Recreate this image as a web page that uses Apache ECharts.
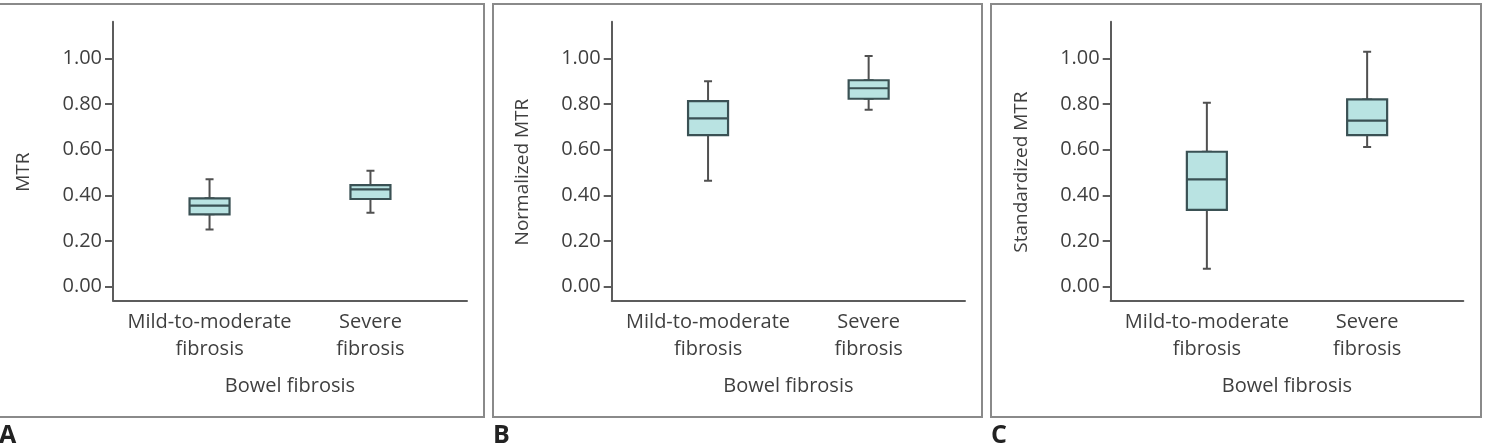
<!DOCTYPE html>
<html>
<head>
<meta charset="utf-8">
<script src="https://cdn.jsdelivr.net/npm/echarts@6/dist/echarts.min.js"></script>
<style>
  html, body { margin: 0; padding: 0; background: #fff; }
  #chart { width: 1486px; height: 445px; }
</style>
</head>
<body>
<div id="chart"></div>
<script>
// categories and tick values
const categories = ['Mild-to-moderate\nfibrosis', 'Severe\nfibrosis'];
const yTicks = [0, 0.2, 0.4, 0.6, 0.8, 1.0];
const xName = 'Bowel fibrosis';
const yNames = ['MTR', 'Normalized MTR', 'Standardized MTR'];
const panelLetters = ['A', 'B', 'C'];

// [min, Q1, median, Q3, max] per category
const mtr = [[0.251, 0.317, 0.355, 0.387, 0.470], [0.324, 0.384, 0.426, 0.445, 0.508]];
const normalizedMtr = [[0.464, 0.664, 0.737, 0.813, 0.900], [0.775, 0.823, 0.869, 0.904, 1.010]];
const standardizedMtr = [[0.079, 0.336, 0.470, 0.591, 0.806], [0.612, 0.664, 0.727, 0.820, 1.029]];

const panels = [mtr, normalizedMtr, standardizedMtr];

let chart = echarts.init(document.getElementById('chart'));

const FONT = 'Open Sans';
const TEXT = '#3f3f3f';
const AXIS = '#5c5c5c';
const gridLefts = [113, 611.7, 1110.7];
const gridWidths = [354, 353.3, 352.6];
const frames = [[-2, 4, 486, 413], [493, 4, 489, 413], [991, 4, 490, 413]];

const grids = [], xAxes = [], yAxes = [], series = [], graphics = [];

panels.forEach((values, p) => {
    grids.push({ left: gridLefts[p], top: 21.8, width: gridWidths[p], height: 278.6 });

    // visible axis with category labels at x = 1, 2
    xAxes.push({
        type: 'value', gridIndex: p, min: 0.4, max: 2.6,
        name: xName, nameLocation: 'middle', nameGap: 76,
        nameTextStyle: { fontFamily: FONT, fontSize: 20, color: TEXT },
        axisLine: { show: true, onZero: false, lineStyle: { color: AXIS, width: 2 } },
        axisTick: { show: false },
        splitLine: { show: false },
        axisLabel: {
            customValues: [1, 2],
            formatter: v => categories[Math.round(v) - 1],
            fontFamily: FONT, fontSize: 20, color: TEXT, lineHeight: 27, margin: 8, align: 'center'
        }
    });
    // hidden twin axis so the whisker series sits centred too
    xAxes.push({ type: 'value', gridIndex: p, min: 0.4, max: 2.6, show: false, splitLine: { show: false } });

    yAxes.push({
        type: 'value', gridIndex: p, min: -0.06, max: 1.16,
        name: yNames[p], nameLocation: 'middle', nameGap: 80,
        nameTextStyle: { fontFamily: FONT, fontSize: 19, color: TEXT, padding: [0, 22, 0, 0] },
        axisLine: { show: true, lineStyle: { color: AXIS, width: 2 } },
        axisTick: { show: true, customValues: yTicks, length: 8, lineStyle: { color: AXIS, width: 2 } },
        splitLine: { show: false },
        axisLabel: {
            customValues: yTicks,
            formatter: v => v.toFixed(2),
            fontFamily: FONT, fontSize: 20, color: TEXT, margin: 11
        }
    });

    // whiskers with narrow caps
    series.push({
        type: 'boxplot', xAxisIndex: p * 2 + 1, yAxisIndex: p,
        boxWidth: [8, 8], silent: true,
        itemStyle: { color: '#b9e3e2', borderColor: '#505050', borderWidth: 2 },
        data: values.map((v, i) => [i + 1, v[0], v[1], v[1], v[3], v[4]])
    });
    // the box with median line
    series.push({
        type: 'boxplot', xAxisIndex: p * 2, yAxisIndex: p,
        boxWidth: [40, 40], silent: true,
        itemStyle: { color: '#b9e3e2', borderColor: '#3a5154', borderWidth: 2.2 },
        data: values.map((v, i) => [i + 1, v[1], v[1], v[2], v[3], v[3]])
    });

    const f = frames[p];
    graphics.push({
        type: 'rect', shape: { x: f[0], y: f[1], width: f[2], height: f[3] },
        style: { fill: 'none', stroke: '#8a8a8a', lineWidth: 2 }, silent: true
    });
    graphics.push({
        type: 'text', x: f[0] < 0 ? -1 : f[0], y: 423,
        style: { text: panelLetters[p], fontFamily: FONT, fontSize: 25, fontWeight: 'bold', fill: '#222', verticalAlign: 'top' }
    });
});

chart.setOption({
    animation: false,
    grid: grids,
    xAxis: xAxes,
    yAxis: yAxes,
    series: series,
    graphic: graphics
});
</script>
</body>
</html>
